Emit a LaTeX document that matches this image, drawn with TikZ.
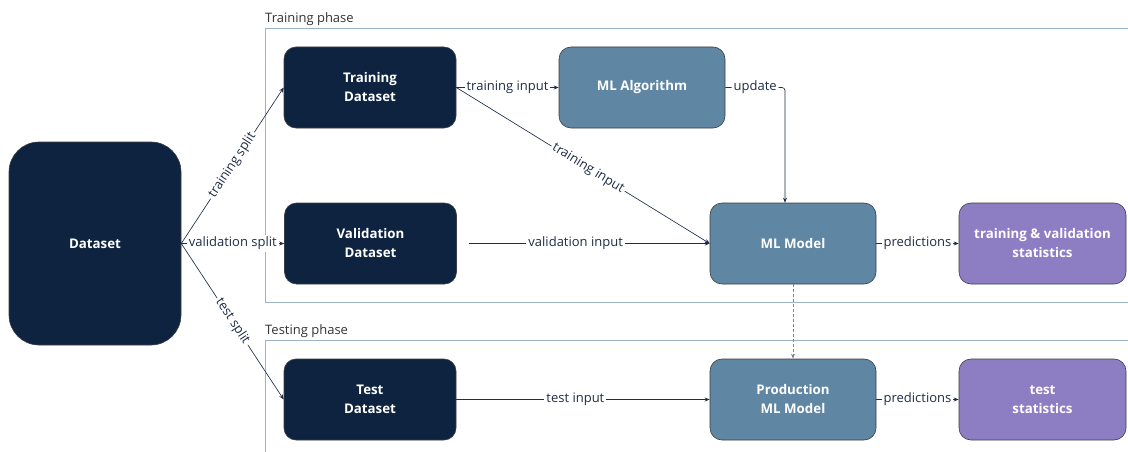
\documentclass[tikz,border=0pt]{standalone}
\usepackage{fontspec}
\setmainfont{Open Sans}
\usetikzlibrary{arrows.meta,calc}
\definecolor{navy}{HTML}{0E2340}
\definecolor{steel}{HTML}{5F86A2}
\definecolor{lilac}{HTML}{8D7EC4}
\definecolor{frame}{HTML}{9DB4C8}
\definecolor{ink}{HTML}{1F2D45}
\definecolor{edgegray}{HTML}{3A3F47}
\definecolor{dashgray}{HTML}{7A8593}
\begin{document}
\begin{tikzpicture}[x=1pt,y=-1pt,
  box/.style={draw=edgegray,line width=0.6pt,rounded corners=12pt,minimum width=172pt,minimum height=81pt,inner sep=0pt,text=white,font=\fontsize{13.3}{19}\selectfont\bfseries,align=center},
  navybox/.style={box,fill=navy},
  steelbox/.style={box,fill=steel,minimum width=166pt},
  lilacbox/.style={box,fill=lilac,minimum width=167pt},
  conn/.style={draw=ink,line width=0.65pt,-{Stealth[length=5pt,width=4pt]}},
  lbl/.style={fill=white,inner sep=2pt,text=ink,font=\fontsize{13}{15}\selectfont},
  phase/.style={draw=frame,line width=0.9pt},
  phaselbl/.style={anchor=south west,inner sep=0pt,text=black!80,font=\fontsize{13}{15}\selectfont}]
\useasboundingbox (0,0) rectangle (1128,452);
% phase frames
\draw[phase] (1130,28) -- (265,28) -- (265,302) -- (1130,302);
\node[phaselbl] (trphase) at (265,25.5) {Training phase};
\draw[phase] (1130,340) -- (265,340) -- (265,455);
\node[phaselbl] (tsphase) at (265,337.5) {Testing phase};
% nodes
\node[navybox,minimum width=172pt,minimum height=203pt,rounded corners=30pt] (ds) at (95,243.5) {Dataset};
\node[navybox] (trd) at (370,87.5) {Training\\Dataset};
\node[navybox] (vad) at (370.5,243.5) {Validation\\Dataset};
\node[navybox] (ted) at (370,399.5) {Test\\Dataset};
\node[steelbox] (alg) at (642,87.5) {ML Algorithm};
\node[steelbox] (mod) at (793,243.5) {ML Model};
\node[steelbox] (prod) at (793,399.5) {Production\\ML Model};
\node[lilacbox] (tvs) at (1042.5,243.5) {training \& validation\\statistics};
\node[lilacbox] (tss) at (1042.5,399.5) {test\\statistics};
% connectors
\draw[conn] (ds.east) -- node[lbl,sloped] {training split} (trd.west);
\draw[conn] (ds.east) -- node[lbl] {validation split} (vad.west);
\draw[conn] (ds.east) -- node[lbl,sloped] {test split} (ted.west);
\draw[conn] (trd.east) -- node[lbl] {training input} (alg.west);
\draw[conn] (trd.east) -- node[lbl,sloped,pos=0.52] {training input} (mod.west);
\coordinate (updc) at (785,87.5);
\draw[conn,rounded corners=3pt] (alg.east) -- node[lbl] {update} (updc) -- (mod.north -| updc);
\draw[conn,shorten <=12pt] (vad.east) -- node[lbl,pos=0.47] {validation input} (mod.west);
\draw[conn] (ted.east) -- node[lbl,pos=0.47] {test input} (prod.west);
\draw[conn] (mod.east) -- node[lbl] {predictions} (tvs.west);
\draw[conn] (prod.east) -- node[lbl] {predictions} (tss.west);
\draw[conn,draw=dashgray,line width=0.8pt,dash pattern=on 3pt off 2pt] (mod.south) -- (prod.north);
\end{tikzpicture}
\end{document}
